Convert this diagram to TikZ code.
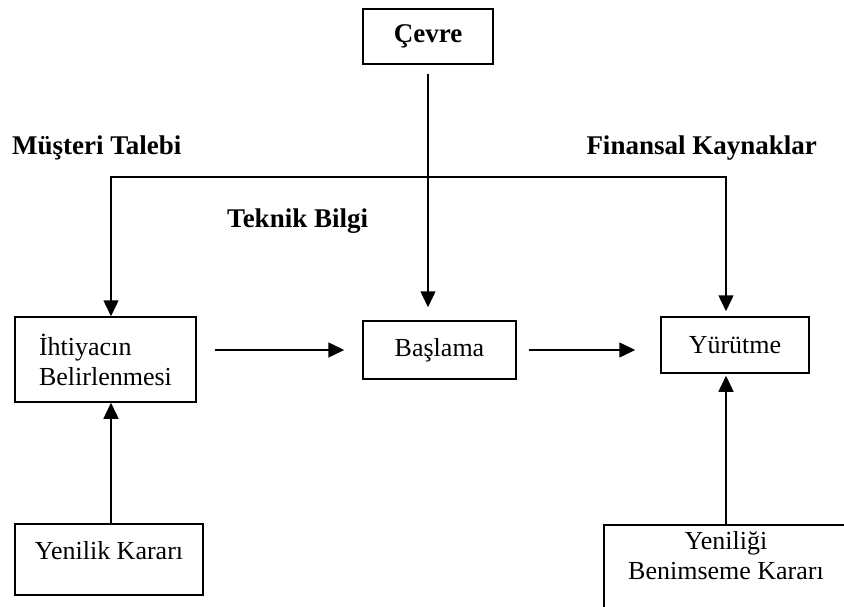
\documentclass[tikz,border=0pt]{standalone}
\usepackage{fontspec}
\setmainfont{Liberation Serif}
\usetikzlibrary{arrows.meta,positioning}
\tikzset{
  box/.style={draw, line width=1.5pt, align=center, inner sep=0pt, font=\fontsize{26}{30}\selectfont},
  headbox/.style={box, font=\fontsize{27}{30}\selectfont\bfseries},
  tag/.style={inner sep=0pt, font=\fontsize{27}{30}\selectfont\bfseries},
  flow/.style={-{Triangle[length=16pt,width=15pt]}, line width=1.5pt},
  bothflow/.style={{Triangle[length=16pt,width=15pt]}-{Triangle[length=16pt,width=15pt]}, line width=1.5pt}
}
\begin{document}
\begin{tikzpicture}[x=1pt, y=-1pt]
        \useasboundingbox (0,0) rectangle (844,607);
        \node[headbox, minimum width=130pt, minimum height=55pt] (cevre) at (428,36.5) {Çevre};
        \node[tag, anchor=base west] (talep) at (12,155) {Müşteri Talebi};
        \node[tag, anchor=base east] (finans) at (817,155) {Finansal Kaynaklar};
        \node[tag, anchor=base west] (teknik) at (227,228) {Teknik Bilgi};
        \node[box, align=left, minimum width=181pt, minimum height=85pt] (ihtiyac) at (105.5,359.5) {İhtiyacın\\Belirlenmesi};
        \node[box, minimum width=153pt, minimum height=58pt] (baslama) at (439.5,350) {Başlama};
        \node[box, minimum width=148pt, minimum height=56pt] (yurutme) at (735,345) {Yürütme};
        \node[box, minimum width=188pt, minimum height=71pt, text height=18pt, text depth=18pt] (yenilik) at (109,559.5) {Yenilik Kararı};
        \node[box, anchor=north, minimum width=244pt, inner ysep=7pt, text depth=90pt] (benimseme) at (726,524) {Yeniliği\\Benimseme Kararı};
        \coordinate (jl) at (111,177);
        \coordinate (jr) at (726,177);
        \draw[bothflow, shorten >=5pt] (jl |- ihtiyac.north) -- (jl) -- (jr) -- (jr |- yurutme.north);
        \draw[flow, shorten <=9pt, shorten >=13pt] (cevre.south) -- (cevre.south |- baslama.north);
        \draw[flow, shorten <=18pt, shorten >=18pt] (ihtiyac.east |- baslama) -- (baslama.west);
        \draw[flow, shorten <=12pt, shorten >=25pt] (baslama.east) -- (yurutme.west |- baslama);
        \draw[flow] (yenilik.north -| jl) -- (ihtiyac.south -| jl);
        \draw[flow, shorten >=2pt] (benimseme.north) -- (yurutme.south -| benimseme.north);
      \end{tikzpicture}
\end{document}
